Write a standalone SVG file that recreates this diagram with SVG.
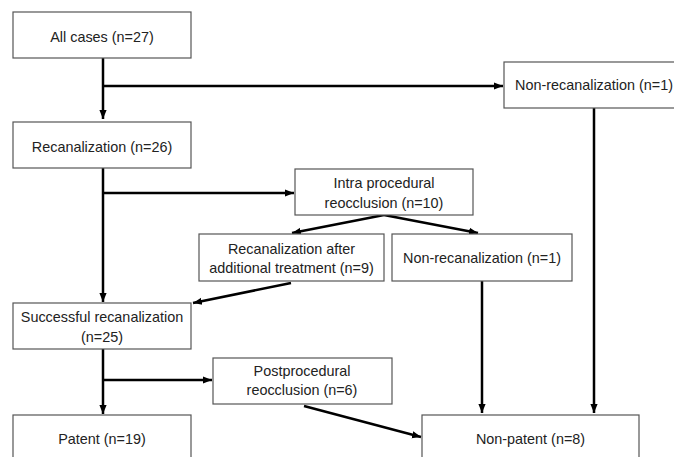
<svg xmlns="http://www.w3.org/2000/svg" width="674" height="457" viewBox="0 0 674 457">
<defs>
<marker id="ah" viewBox="0 0 10 10" refX="10" refY="5" markerWidth="9" markerHeight="9" markerUnits="userSpaceOnUse" orient="auto">
<path d="M0,1 L10,5 L0,9 z" fill="#000"/>
</marker>
<style>
.box{fill:#fff;stroke:#555;stroke-width:1.2}
.t{font-family:"Liberation Sans",Arial,sans-serif;font-size:14.4px;fill:#222;text-anchor:middle}
.c{fill:none;stroke:#000;stroke-width:2.5;marker-end:url(#ah)}
</style>
</defs>
<rect width="674" height="457" fill="#fff"/>
<g id="connectors">
<path class="c" d="M103,58 V119"/>
<path class="c" d="M103,86 H503"/>
<path class="c" d="M103,168 V302"/>
<path class="c" d="M103,193 H294"/>
<path class="c" d="M384,215 L292,233"/>
<path class="c" d="M384,215 L478,233"/>
<path class="c" d="M291,283 L193,303"/>
<path class="c" d="M103,349 V414"/>
<path class="c" d="M103,380 H212"/>
<path class="c" d="M304,406 L421,437"/>
<path class="c" d="M482,281 V413"/>
<path class="c" d="M594,108 V413"/>
</g>
<g id="all"><rect class="box" x="13" y="12" width="178" height="46"/><text class="t" x="102" y="42">All cases (n=27)</text></g>
<g id="nonrecan-top"><rect class="box" x="504" y="62" width="180" height="46"/><text class="t" x="594" y="90">Non-recanalization (n=1)</text></g>
<g id="recan"><rect class="box" x="13" y="122" width="178" height="46"/><text class="t" x="102" y="152">Recanalization (n=26)</text></g>
<g id="intra"><rect class="box" x="295" y="169" width="178" height="46"/><text class="t" x="384" y="188">Intra procedural</text><text class="t" x="384" y="208">reocclusion (n=10)</text></g>
<g id="recan-after"><rect class="box" x="199" y="234" width="185" height="47"/><text class="t" x="291.5" y="254">Recanalization after</text><text class="t" x="291.5" y="273">additional treatment (n=9)</text></g>
<g id="nonrecan-mid"><rect class="box" x="392" y="234" width="180" height="47"/><text class="t" x="482" y="263">Non-recanalization (n=1)</text></g>
<g id="successful"><rect class="box" x="13" y="303" width="178" height="46"/><text class="t" x="102" y="322">Successful recanalization</text><text class="t" x="102" y="342">(n=25)</text></g>
<g id="postproc"><rect class="box" x="213" y="358" width="179" height="46"/><text class="t" x="302" y="376">Postprocedural</text><text class="t" x="302" y="395">reocclusion (n=6)</text></g>
<g id="patent"><rect class="box" x="13" y="415" width="178" height="46"/><text class="t" x="102" y="444">Patent (n=19)</text></g>
<g id="nonpatent"><rect class="box" x="422" y="415" width="217" height="46"/><text class="t" x="530.5" y="444">Non-patent (n=8)</text></g>
</svg>
